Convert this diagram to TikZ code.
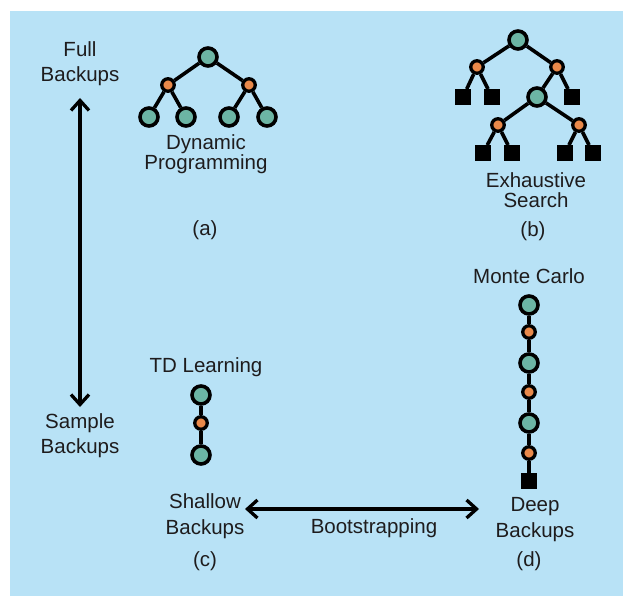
\documentclass[tikz,border=0pt]{standalone}
\usepackage{fontspec}
\setmainfont{Liberation Sans}
\usetikzlibrary{arrows.meta}
\definecolor{bgblue}{RGB}{184,226,246}
\definecolor{teal1}{RGB}{108,181,164}
\definecolor{orange1}{RGB}{233,137,74}
\definecolor{txt}{RGB}{30,28,29}
\tikzset{
  stnode/.style={circle,draw=black,line width=3.6pt,fill=teal1,minimum size=18pt,inner sep=0pt},
  actnode/.style={circle,draw=black,line width=3.3pt,fill=orange1,minimum size=12.5pt,inner sep=0pt},
  termnode/.style={rectangle,fill=black,minimum size=15.5pt,inner sep=0pt},
  link/.style={line width=3.6pt,black},
  lbl/.style={text=txt,font=\fontsize{20.5}{25}\selectfont,align=center,anchor=base,inner sep=0pt},
  lbltight/.style={lbl,font=\fontsize{20.5}{20}\selectfont},
  lblwide/.style={lbl,font=\fontsize{20.5}{26}\selectfont},
  dblarrow/.style={line width=3.3pt,black,{Straight Barb[length=10pt,width=18pt,line width=3.3pt]}-{Straight Barb[length=10pt,width=18pt,line width=3.3pt]}}
}
\begin{document}
\begin{tikzpicture}[x=1pt,y=-1pt]
\useasboundingbox (0,0) rectangle (623,596);
\fill[bgblue] (10,11) rectangle (623,596);

% vertical axis
\node[lbl] (full) at (80,82) {Full\\Backups};
\node[lbl] (sample) at (80,453) {Sample\\Backups};
\coordinate (vtop) at (80,98);
\coordinate (vbot) at (80,407);
\draw[dblarrow] (vtop) -- (vbot);

% (a) dynamic programming
\node[stnode] (a0) at (208,57) {};
\node[actnode] (a1) at (168,85) {};
\node[actnode] (a2) at (249,85) {};
\node[stnode] (a11) at (149,117) {};
\node[stnode] (a12) at (186,117) {};
\node[stnode] (a21) at (229,117) {};
\node[stnode] (a22) at (267,117) {};
\draw[link] (a0) -- (a1) (a0) -- (a2)
  (a1) -- (a11) (a1) -- (a12) (a2) -- (a21) (a2) -- (a22);
\node[lbltight] (dplabel) at (206,169) {Dynamic\\Programming};
\node[lbl] (capa) at (205,235) {(a)};

% (b) exhaustive search
\node[stnode] (b0) at (518,40) {};
\node[actnode] (b1) at (477,67) {};
\node[actnode] (b2) at (557,67) {};
\node[termnode] (b11) at (463,97) {};
\node[termnode] (b12) at (492,97) {};
\node[stnode] (b21) at (537,97) {};
\node[termnode] (b22) at (572,97) {};
\node[actnode] (b3) at (498,125) {};
\node[actnode] (b4) at (579,125) {};
\node[termnode] (b31) at (483,153) {};
\node[termnode] (b32) at (512,153) {};
\node[termnode] (b41) at (565,153) {};
\node[termnode] (b42) at (593,153) {};
\draw[link] (b0) -- (b1) (b0) -- (b2)
  (b1) -- (b11) (b1) -- (b12) (b2) -- (b21) (b2) -- (b22)
  (b21) -- (b3) (b21) -- (b4)
  (b3) -- (b31) (b3) -- (b32) (b4) -- (b41) (b4) -- (b42);
\node[lbltight] (eslabel) at (536,207) {Exhaustive\\Search};
\node[lbl] (capb) at (533,236) {(b)};

% (c) TD learning
\node[lbl] (tdlabel) at (206,372) {TD Learning};
\node[stnode] (c0) at (201,395) {};
\node[actnode] (c1) at (201,423) {};
\node[stnode] (c2) at (201,455) {};
\draw[link] (c0) -- (c1) -- (c2);
\node[lblwide] (shallow) at (205,534) {Shallow\\Backups};
\node[lbl] (capc) at (205,566) {(c)};

% (d) Monte Carlo
\node[lbl] (mclabel) at (529,283) {Monte Carlo};
\node[stnode] (d0) at (529,305) {};
\node[actnode] (d1) at (529,332) {};
\node[stnode] (d2) at (529,363) {};
\node[actnode] (d3) at (529,392) {};
\node[stnode] (d4) at (529,423) {};
\node[actnode] (d5) at (529,453) {};
\node[termnode] (d6) at (529,481) {};
\draw[link] (d0) -- (d1) -- (d2) -- (d3) -- (d4) -- (d5) -- (d6);
\node[lblwide] (deep) at (535,537) {Deep\\Backups};
\node[lbl] (capd) at (529,566) {(d)};

% horizontal axis
\coordinate (hleft) at (245,509);
\coordinate (hright) at (479,509);
\draw[dblarrow] (hleft) -- (hright);
\node[lbl] (boot) at (374,533) {Bootstrapping};
\end{tikzpicture}
\end{document}
